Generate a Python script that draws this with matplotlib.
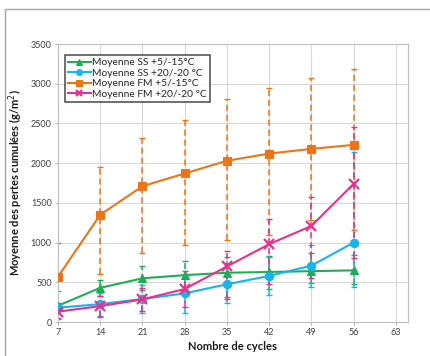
import matplotlib
matplotlib.use("Agg")
import matplotlib.pyplot as plt
from matplotlib.patches import Rectangle

plt.rcParams['font.family'] = ['Lato', 'DejaVu Sans']

cycles = [7, 14, 21, 28, 35, 42, 49, 56]

# Moyenne SS +5/-15°C
ss_5_15 = [205, 430, 550, 590, 620, 630, 640, 650]
ss_5_15_low = [170, 330, 400, 420, 320, 410, 487, 480]
ss_5_15_high = [240, 530, 710, 770, 820, 835, 865, 845]

# Moyenne SS +20/-20 °C
ss_20_20 = [180, 225, 290, 360, 475, 580, 710, 1000]
ss_20_20_low = [40, 80, 110, 117, 235, 340, 445, 445]
ss_20_20_high = [390, 370, 470, 600, 715, 820, 975, 2140]

# Moyenne FM +5/-15°C
fm_5_15 = [570, 1350, 1710, 1870, 2030, 2120, 2180, 2230]
fm_5_15_low = [140, 600, 870, 975, 1035, 1100, 1290, 1160]
fm_5_15_high = [1000, 1950, 2320, 2540, 2810, 2950, 3075, 3180]

# Moyenne FM +20/-20 °C
fm_20_20 = [130, 200, 285, 415, 700, 980, 1210, 1740]
fm_20_20_low = [50, 65, 140, 193, 285, 475, 550, 800]
fm_20_20_high = [210, 330, 430, 640, 900, 1300, 1570, 2460]

labels = ["Moyenne SS +5/-15°C", "Moyenne SS +20/-20 °C",
          "Moyenne FM +5/-15°C", "Moyenne FM +20/-20 °C"]
x_ticks = [7, 14, 21, 28, 35, 42, 49, 56, 63]
y_ticks = [0, 500, 1000, 1500, 2000, 2500, 3000, 3500]

W, H = 431, 356
fig = plt.figure(figsize=(W / 100, H / 100), dpi=100)
fig.patch.set_facecolor("white")

# chart frame
fig.patches.append(Rectangle((5 / W, -0.1), 1.2, 1 - 9 / H + 0.1,
                             transform=fig.transFigure, fill=False,
                             edgecolor="#a6a6a6", linewidth=1.0))

ax = fig.add_axes([58 / W, 1 - 322 / H, (408 - 58) / W, (322 - 44) / H])

series = [
    (ss_5_15, ss_5_15_low, ss_5_15_high, "#1fae55", "^", 5.5),
    (ss_20_20, ss_20_20_low, ss_20_20_high, "#18b4ee", "o", 6),
    (fm_5_15, fm_5_15_low, fm_5_15_high, "#ee7516", "s", 6),
    (fm_20_20, fm_20_20_low, fm_20_20_high, "#ea2f8c", "x", 6.5),
]

for (vals, lo, hi, col, mk, ms), lab in zip(series, labels):
    err = [[v - l for v, l in zip(vals, lo)], [h - v for v, h in zip(vals, hi)]]
    eb = ax.errorbar(cycles, vals, yerr=err, fmt="none", ecolor=col,
                     elinewidth=1.1, capsize=2, capthick=1.0, zorder=2)
    for lc in eb[2]:
        lc.set_linestyle((0, (4, 2.5)))
    ax.plot(cycles, vals, color=col, linewidth=1.5, marker=mk,
            markersize=ms, markeredgewidth=1.6 if mk == "x" else 0.8,
            markeredgecolor=col, markerfacecolor=col, label=lab, zorder=3)

ax.set_xlim(7, 65)
ax.set_ylim(0, 3500)
ax.set_xticks(x_ticks)
ax.set_yticks(y_ticks)
ax.tick_params(labelsize=6.5, colors="#404040", length=2.5, width=0.6,
               color="#a6a6a6", pad=2)
ax.grid(True, color="#d9d9d9", linewidth=0.8, zorder=0)
ax.set_axisbelow(True)
for s in ax.spines.values():
    s.set_color("#bfbfbf")
    s.set_linewidth(0.8)

ax.set_xlabel("Nombre de cycles", fontsize=8, fontweight="bold",
              color="#1a1a1a", labelpad=3)
ax.set_ylabel("Moyenne des pertes cumulées (g/m$^2$)", fontsize=8,
              fontweight="bold", color="#1a1a1a", labelpad=4)

leg = ax.legend(loc="upper left", bbox_to_anchor=(0.02, 0.96), fontsize=7.4,
                frameon=True, fancybox=False, edgecolor="#1a1a1a",
                borderpad=0.3, labelspacing=0.12, handlelength=2.2,
                handletextpad=0.1, borderaxespad=0, markerscale=0.7)
leg.get_frame().set_linewidth(1.1)
for t in leg.get_texts():
    t.set_color("#262626")

fig.savefig("out.png", dpi=100, facecolor="white")
